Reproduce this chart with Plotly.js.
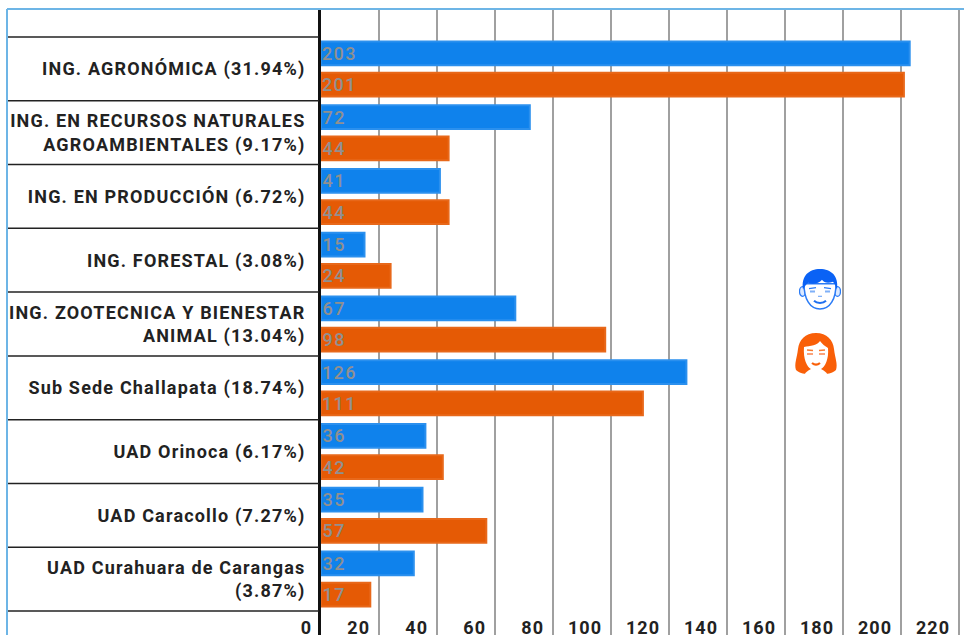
<!DOCTYPE html>
<html>
<head>
<meta charset="utf-8">
<script src="https://cdn.plot.ly/plotly-3.0.1.min.js"></script>
<style>
html,body{margin:0;padding:0;background:#fff}
#chart{width:964px;height:635px}
#chart .ytick text{letter-spacing:1.18px}
#chart .xtick text{letter-spacing:1px}
#chart .bartext text, #chart text.bartext{letter-spacing:1.4px}
</style>
</head>
<body>
<div id="chart"></div>
<script>
const categories = [
  "ING. AGRONÓMICA (31.94%)",
  "ING. EN RECURSOS NATURALES<br>AGROAMBIENTALES (9.17%)",
  "ING. EN PRODUCCIÓN (6.72%)",
  "ING. FORESTAL (3.08%)",
  "ING. ZOOTECNICA Y BIENESTAR<br>ANIMAL (13.04%)",
  "Sub Sede Challapata (18.74%)",
  "UAD Orinoca (6.17%)",
  "UAD Caracollo (7.27%)",
  "UAD Curahuara de Carangas<br>(3.87%)"
];
const hombres = [203, 72, 41, 15, 67, 126, 36, 35, 32];
const mujeres = [201, 44, 44, 24, 98, 111, 42, 57, 17];
const xTicks = [0, 20, 40, 60, 80, 100, 120, 140, 160, 180, 200, 220];

const W = 964, H = 635, L = 321, T = 9;
const plotW = W - L, plotH = H - T;
const ROW = 63.78;
const pxX = px => (px - L) / plotW;
const pxY = py => 1 - (py - T) / plotH;

const maleSvg = `<svg xmlns="http://www.w3.org/2000/svg" viewBox="0 0 42 42">
<ellipse cx="3.5" cy="23" rx="3" ry="5" fill="#dbe9ff" stroke="#2a7bf6" stroke-width="1.3"/>
<ellipse cx="38.5" cy="23" rx="3" ry="5" fill="#dbe9ff" stroke="#2a7bf6" stroke-width="1.3"/>
<path d="M5 15 C5 31 11 41 21 41 C31 41 37 31 37 15 Z" fill="#fff" stroke="#2a7bf6" stroke-width="1.5"/>
<path d="M4 21 C2 7 10 0 21 0 C32 0 40 7 38 21 C36.500 18 36 15 34 13 C29 15 25 14 23 11 C20 15 13 16 9 14 C7 16 5.500 18 4 21 Z" fill="#0a62f5"/>
<path d="M10 20 L17 19 M25 19 L32 20" stroke="#2a7bf6" stroke-width="1.3" fill="none"/>
<path d="M11 23 L16 23 M26 23 L31 23" stroke="#7fb0f8" stroke-width="2" fill="none"/>
<path d="M19 28 L23 28" stroke="#7fb0f8" stroke-width="1.3" fill="none"/>
<path d="M15 32.500 C18 35.500 24 35.500 27 32.500" stroke="#1f70f0" stroke-width="2" fill="none"/>
</svg>`;
const femaleSvg = `<svg xmlns="http://www.w3.org/2000/svg" viewBox="0 0 44 42">
<path d="M22 0 C33 0 39 7 40 16 C41 25 44 31 42 37 C38 41 32 41 29 41 L15 41 C12 41 6 41 2 37 C0 31 3 25 4 16 C5 7 11 0 22 0 Z" fill="#f95f08"/>
<path d="M10 14 C16 13 24 12 26 8 C28 11 31 13 34 15 C35 26 31 34 27 36 C31 38 33 40 33 41 L11 41 C11 40 13 38 17 36 C13 34 9 26 10 14 Z" fill="#fff"/>
<path d="M13 17 L19 17.500 M25 17.500 L31 17" stroke="#f97a30" stroke-width="1.500" fill="none"/>
<path d="M13 21 L19 21 M25 21 L31 21" stroke="#fba27a" stroke-width="2" fill="none"/>
<path d="M18 30 C21 32.500 23 32.500 26 30" stroke="#f95f08" stroke-width="2.200" fill="none"/>
</svg>`;
const uri = s => "data:image/svg+xml;charset=utf-8," + encodeURIComponent(s);

const labelFont = {family: "Roboto, sans-serif", size: 18, color: "#222222", weight: 700};

const barTrace = (values, color, line) => ({
  type: "bar",
  orientation: "h",
  y: categories,
  x: values,
  marker: {color: color, line: {color: line, width: 2}},
  text: values.map(String),
  textposition: "inside",
  insidetextanchor: "start",
  textangle: 0,
  constraintext: "none",
  textfont: {family: "Roboto, sans-serif", size: 18, color: "#909090", weight: 500},
  hoverinfo: "x+y",
  cliponaxis: true
});

const separators = [];
for (let i = 0; i <= categories.length; i++) {
  separators.push({
    type: "line", xref: "paper", yref: "y",
    x0: pxX(7), x1: pxX(L - 2), y0: i - 0.5, y1: i - 0.5,
    line: {color: "#222222", width: 1.5}
  });
}
const frame = [
  {type: "line", xref: "paper", yref: "paper", x0: pxX(7), x1: pxX(7), y0: pxY(9), y1: 0,
   line: {color: "#6db5e6", width: 2}},
  {type: "line", xref: "paper", yref: "paper", x0: pxX(7), x1: 1, y0: pxY(9), y1: pxY(9),
   line: {color: "#6db5e6", width: 2}}
];

const layout = {
  width: W, height: H,
  margin: {l: L, r: 0, t: T, b: 0, pad: 0},
  paper_bgcolor: "#ffffff",
  plot_bgcolor: "#ffffff",
  showlegend: false,
  barmode: "group",
  bargap: 0.02,
  bargroupgap: 0.24,
  xaxis: {
    range: [0, plotW / 2.9],
    tickmode: "array",
    tickvals: xTicks,
    ticktext: xTicks.map(String),
    showgrid: true,
    gridcolor: "#a0a0a0",
    gridwidth: 2,
    zeroline: false,
    showline: false,
    ticks: "",
    anchor: "free",
    position: pxY(615),
    ticklabelposition: "outside left",
    ticklabelshift: -9,
    tickfont: labelFont
  },
  yaxis: {
    type: "category",
    categoryorder: "array",
    categoryarray: categories,
    range: [8.5 + (H - 611) / ROW, -0.5 - (37 - T) / ROW],
    showgrid: false,
    zeroline: false,
    showline: true,
    linecolor: "#111111",
    linewidth: 3,
    ticks: "",
    ticklabelstandoff: 9,
    tickfont: labelFont,
    automargin: false
  },
  shapes: separators.concat(frame),
  images: [
    {source: uri(maleSvg), xref: "paper", yref: "paper", x: pxX(799), y: pxY(269),
     sizex: 42 / plotW, sizey: 41 / plotH, xanchor: "left", yanchor: "top", sizing: "stretch", layer: "above"},
    {source: uri(femaleSvg), xref: "paper", yref: "paper", x: pxX(794), y: pxY(333),
     sizex: 44 / plotW, sizey: 42 / plotH, xanchor: "left", yanchor: "top", sizing: "stretch", layer: "above"}
  ]
};

Plotly.newPlot("chart", [
  barTrace(hombres, "#0f82ec", "#2b90ee"),
  barTrace(mujeres, "#e55a05", "#e8681a")
], layout, {displayModeBar: false, responsive: false});
</script>
</body>
</html>
